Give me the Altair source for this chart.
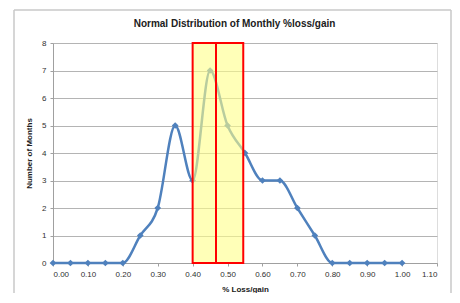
import altair as alt
import pandas as pd

x_vals = [0.00, 0.05, 0.10, 0.15, 0.20, 0.25, 0.30, 0.35, 0.40, 0.45, 0.50,
          0.55, 0.60, 0.65, 0.70, 0.75, 0.80, 0.85, 0.90, 0.95, 1.00]
months = [0, 0, 0, 0, 0, 1, 2, 5, 3, 7, 5, 4, 3, 3, 2, 1, 0, 0, 0, 0, 0]

band_start = [0.40]
band_end = [0.545]
band_mid = [0.467]
title_text = ["Normal Distribution of Monthly %loss/gain"]
x_ticks = [0.0, 0.1, 0.2, 0.3, 0.4, 0.5, 0.6, 0.7, 0.8, 0.9, 1.0, 1.1]
y_ticks = [0, 1, 2, 3, 4, 5, 6, 7, 8]

df = pd.DataFrame({"x": x_vals, "y": months})
band = pd.DataFrame({"x": band_start, "x2": band_end, "y": [0], "y2": [8]})
mid = pd.DataFrame({"x": band_mid})
tdf = pd.DataFrame({"t": title_text})

FONT = "Liberation Sans"
BLUE = "#4F81BD"

xscale = alt.Scale(domain=[0, 1.1], nice=False, zero=False)
yscale = alt.Scale(domain=[0, 8], nice=False)

xaxis = alt.Axis(title="% Loss/gain", values=x_ticks, format=".2f",
                 grid=False, domain=True, domainColor="#A0A0A0", tickColor="#A0A0A0",
                 tickSize=3, labelFontSize=8, labelColor="#303030", labelPadding=4,
                 labelOverlap=False, labelSeparation=0,
                 titleFontSize=8, titleFontWeight="bold", titleColor="#202020",
                 titlePadding=7, labelFont=FONT, titleFont=FONT)
yaxis = alt.Axis(title="Number of Months", values=y_ticks, grid=True,
                 gridColor="#B4B4B4", domain=True, domainColor="#A0A0A0",
                 tickColor="#A0A0A0", tickSize=3, labelFontSize=8, labelOverlap=False,
                 labelSeparation=0,
                 labelColor="#303030", labelPadding=4, titleFontSize=8,
                 titleFontWeight="bold", titleColor="#202020", titlePadding=8,
                 labelFont=FONT, titleFont=FONT)

X = alt.X("x:Q", scale=xscale, axis=xaxis)
Y = alt.Y("y:Q", scale=yscale, axis=yaxis)

line = alt.Chart(df).mark_line(color=BLUE, strokeWidth=2.5, interpolate="monotone").encode(
    x=X, y=Y,
)
points = alt.Chart(df).mark_point(shape="diamond", filled=True, color=BLUE, size=45, opacity=1).encode(
    x=X, y=Y,
)
rect = alt.Chart(band).mark_rect(fill="#FFFF88", fillOpacity=0.6, stroke="#FF0000",
                                 strokeWidth=2).encode(
    x=X, x2="x2:Q", y=Y, y2="y2:Q"
)
midline = alt.Chart(mid).mark_rule(color="#FF0000", strokeWidth=2).encode(
    x=X, y=alt.value(0), y2=alt.value(220)
)
title = alt.Chart(tdf).mark_text(fontSize=10, fontWeight="bold", font=FONT, color="#202020",
                                 align="center", baseline="middle").encode(
    text="t:N", x=alt.value(181.5), y=alt.value(-19)
)
# chart-area frame
frame_left = alt.Chart(mid).mark_rule(color="#C8C8C8", strokeWidth=1.5).encode(
    x=alt.value(-39), y=alt.value(-33), y2=alt.value(260)
)
frame_top = alt.Chart(mid).mark_rule(color="#C8C8C8", strokeWidth=1.5).encode(
    x=alt.value(-39), x2=alt.value(398), y=alt.value(-33)
)
frame_right = alt.Chart(mid).mark_rule(color="#C8C8C8", strokeWidth=1.5).encode(
    x=alt.value(398), y=alt.value(-33), y2=alt.value(260)
)

chart = alt.layer(frame_left, frame_top, frame_right, title, line, points, rect, midline).properties(
    width=384, height=220,
    autosize=alt.AutoSizeParams(type="none"),
    padding={"left": 45, "top": 35, "right": 15, "bottom": 30},
).configure_view(stroke=None).configure_axis(labelOverlap=False).configure(background="white")

chart.save("out.html", embed_options={"renderer": "svg", "actions": False})
